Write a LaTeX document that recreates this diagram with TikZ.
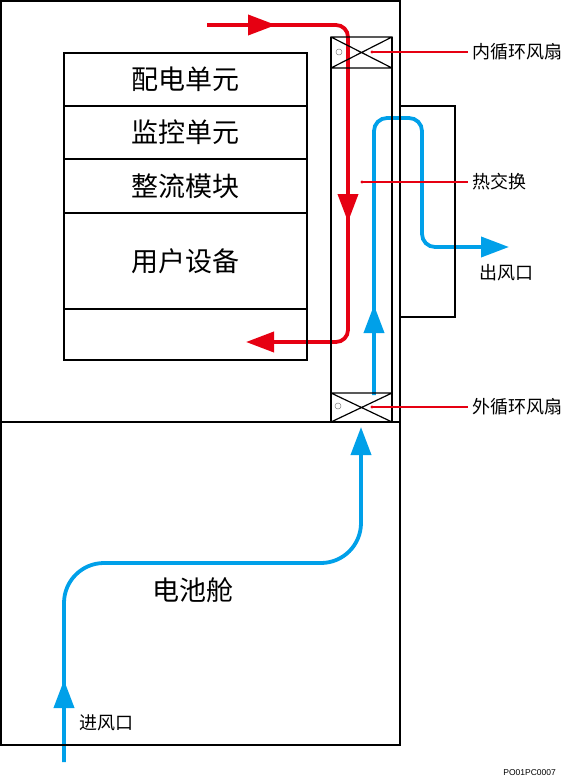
\documentclass[tikz,border=0pt]{standalone}
\usepackage{fontspec}
\setmainfont{Noto Sans CJK SC}
\newfontfamily\codefont{Liberation Sans}
\usepackage{tikz}
\usetikzlibrary{arrows.meta}

\definecolor{flowred}{RGB}{230,0,18}
\definecolor{flowblue}{RGB}{0,160,233}

\begin{document}
\begin{tikzpicture}[x=1pt,y=-1pt,
  frame/.style={draw,line width=1.6pt},
  unit/.style={draw,line width=1.3pt,minimum width=243pt,inner sep=0pt,font=\fontsize{27}{30}\selectfont},
  thinline/.style={draw,line width=1.2pt},
  hot/.style={flowred,line width=3.8pt,rounded corners=12pt},
  cold/.style={flowblue,line width=3.8pt,rounded corners=13pt},
  tip/.style={-{Triangle[length=28pt,width=20pt]}},
  leader/.style={flowred,line width=1.1pt},
  lbl/.style={anchor=west,inner sep=4pt,font=\fontsize{18}{20}\selectfont}]
  \useasboundingbox (0,0) rectangle (566,779);

  % air flows
  \coordinate (r0) at (207,25);
  \coordinate (r1) at (348,25);
  \coordinate (r2) at (348,342);
  \coordinate (rend) at (246,342);
  \coordinate (rtipa) at (276,25);
  \coordinate (rbase) at (348,120);
  \coordinate (rtipb) at (348,222);
  \draw[hot,tip] (r0) -- (r1) -- (r2) -- (rend);
  \draw[hot,tip] (r0) -- (rtipa);
  \draw[hot,tip] (rbase) -- (rtipb);

  \coordinate (b0) at (64,762);
  \coordinate (b1) at (64,563);
  \coordinate (b2) at (361,563);
  \coordinate (bend) at (361,427);
  \coordinate (btip) at (64,680);
  \draw[cold,tip,rounded corners=40pt] (b0) -- (b1) -- (b2) -- (bend);
  \draw[cold,tip] (b0) -- (btip);

  \coordinate (c0) at (374,395);
  \coordinate (c1) at (374,118);
  \coordinate (c2) at (422,118);
  \coordinate (c3) at (422,247);
  \coordinate (cend) at (509,247);
  \coordinate (ctip) at (374,305);
  \draw[cold,tip] (c0) -- (c1) -- (c2) -- (c3) -- (cend);
  \draw[cold,tip] (c0) -- (ctip);

  % cabinet
  \draw[frame] (1,1) rectangle (400,422);
  \draw[frame] (1,422) rectangle (400,745);

  \node[unit,minimum height=53pt] (pd) at (185.5,79.5) {配电单元};
  \node[unit,minimum height=53pt] (jk) at (185.5,132.5) {监控单元};
  \node[unit,minimum height=54pt] (zl) at (185.5,186) {整流模块};
  \node[unit,minimum height=96pt] (yh) at (185.5,261) {用户设备};
  \node[unit,minimum height=51pt] (kong) at (185.5,334.5) {};

  % heat exchanger column and fans
  \draw[thinline] (331,37) -- (331,422) (392,37) -- (392,422);
  \draw[thinline] (331,37) rectangle (392,68) (331,37) -- (392,68) (331,68) -- (392,37);
  \draw[thinline] (331,393) rectangle (392,422) (331,393) -- (392,422) (331,422) -- (392,393);
  \draw[gray,line width=0.5pt] (339,52) circle (3) (338,406) circle (3);
  \draw[thinline] (400,106) rectangle (455,317);

  % labels
  \coordinate (fanin) at (372,52);
  \coordinate (hx) at (362,182);
  \coordinate (fanout) at (372,407);
  \node[lbl] (lfanin) at (468,52) {内循环风扇};
  \node[lbl] (lhx) at (468,182) {热交换};
  \node[lbl] (lfanout) at (468,407) {外循环风扇};
  \draw[leader] (fanin) -- (lfanin.west);
  \draw[leader] (hx) -- (lhx.west);
  \draw[leader] (fanout) -- (lfanout.west);
  \fill[flowred] (fanin) circle (1.6) (hx) circle (1.6) (fanout) circle (1.6);

  \node[font=\fontsize{18}{20}\selectfont] (outlet) at (506,273) {出风口};
  \node[font=\fontsize{18}{20}\selectfont] (inlet) at (106,723) {进风口};
  \node[font=\fontsize{27}{30}\selectfont] (battery) at (193,590) {电池舱};
  \node[font=\codefont\fontsize{8.5}{9}\selectfont,anchor=east,inner sep=0pt] (code) at (556,773) {PO01PC0007};
\end{tikzpicture}
\end{document}
